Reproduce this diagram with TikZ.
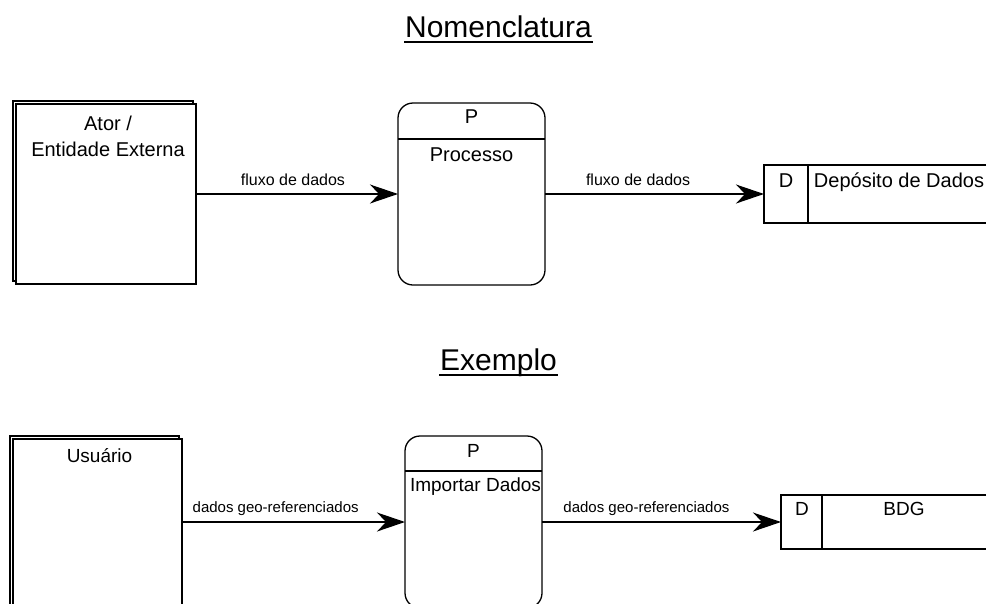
\documentclass[tikz,border=0pt]{standalone}
\usepackage{fontspec}
\setmainfont{Liberation Sans}
\usetikzlibrary{arrows.meta,shadows,calc}

\begin{document}
\begin{tikzpicture}[x=1pt,y=-1pt,
  line width=1.3pt,
  actor/.style={draw, fill=white, anchor=north west, inner sep=0pt, outer sep=0pt,
    copy shadow={shadow xshift=-3pt, shadow yshift=3pt}},
  process/.style={draw, fill=white, rounded corners=15pt, anchor=north west,
    inner sep=0pt, outer sep=0pt},
  store/.style={anchor=north west, inner sep=0pt, outer sep=0pt},
  flow/.style={-{Stealth[length=28pt,width=19pt,inset=9pt]}},
  flowlbl/.style={anchor=base, inner sep=0pt, font=\fontsize{16}{19}\selectfont},
  flowlbls/.style={anchor=base, inner sep=0pt, font=\fontsize{15}{18}\selectfont},
  txtA/.style={anchor=base, inner sep=0pt, font=\fontsize{20}{24}\selectfont},
  txtB/.style={anchor=base, inner sep=0pt, font=\fontsize{19}{23}\selectfont},
  heading/.style={anchor=base, inner sep=0pt, font=\fontsize{30}{36}\selectfont},
  underbar/.style={line width=2pt}
]
\useasboundingbox (0,0) rectangle (987,603);
\clip (0,0) rectangle (987,603);

% ---------------- Nomenclatura ----------------
\node[heading] (nom) at (498.5,37) {Nomenclatura};
\draw[underbar] ([yshift=-5pt]nom.base west) -- ([yshift=-5pt]nom.base east);

\node[actor, minimum width=180pt, minimum height=180pt] (ator) at (16,104) {};
\node[txtA] (atorA) at ($(ator.north)+(2,26)$) {Ator /};
\node[txtA] (atorB) at ($(ator.north)+(2,52)$) {Entidade Externa};

\node[process, minimum width=147pt, minimum height=182pt] (proc) at (398,103) {};
\draw ($(proc.north west)+(0,36)$) -- ($(proc.north east)+(0,36)$);
\node[txtA] (procP) at ($(proc.north)+(0,20)$) {P};
\node[txtA] (procT) at ($(proc.north)+(0,58)$) {Processo};

\node[store, minimum width=222pt, minimum height=58pt] (dep) at (764,165) {};
\draw (dep.north east) -- (dep.north west) -- (dep.south west) -- (dep.south east);
\draw ($(dep.north west)+(44,0)$) -- ($(dep.south west)+(44,0)$);
\node[txtA] (depD) at ($(dep.north west)+(22,22)$) {D};
\node[txtA] (depT) at ($(dep.north west)+(135,22)$) {Depósito de Dados};

\draw[flow] (ator.east) -- node[flowlbl, pos=0.48, yshift=9pt] (f1) {fluxo de dados} (proc.west);
\draw[flow] (proc.east) -- node[flowlbl, pos=0.425, yshift=9pt] (f2) {fluxo de dados} (dep.west);

% ---------------- Exemplo ----------------
\node[heading] (exe) at (498.5,370) {Exemplo};
\draw[underbar] ([yshift=-5pt]exe.base west) -- ([yshift=-5pt]exe.base east);

\node[actor, minimum width=169pt, minimum height=200pt] (usr) at (13,439) {};
\node[txtB] (usrT) at ($(usr.north)+(2,23)$) {Usuário};

\node[process, minimum width=137pt, minimum height=172pt] (imp) at (405,436) {};
\draw ($(imp.north west)+(0,35)$) -- ($(imp.north east)+(0,35)$);
\node[txtB] (impP) at ($(imp.north)+(0,21)$) {P};
\node[txtB] (impT) at ($(imp.north)+(2,55)$) {Importar Dados};

\node[store, minimum width=205pt, minimum height=54pt] (bdg) at (781,495) {};
\draw (bdg.north east) -- (bdg.north west) -- (bdg.south west) -- (bdg.south east);
\draw ($(bdg.north west)+(41,0)$) -- ($(bdg.south west)+(41,0)$);
\node[txtB] (bdgD) at ($(bdg.north west)+(21,20)$) {D};
\node[txtB] (bdgT) at ($(bdg.north west)+(123,20)$) {BDG};

\draw[flow] (usr.east |- imp.west) -- node[flowlbls, pos=0.42, yshift=10pt] (f3) {dados geo-referenciados} (imp.west);
\draw[flow] (imp.east) -- node[flowlbls, pos=0.437, yshift=10pt] (f4) {dados geo-referenciados} (bdg.west);
\end{tikzpicture}
\end{document}
